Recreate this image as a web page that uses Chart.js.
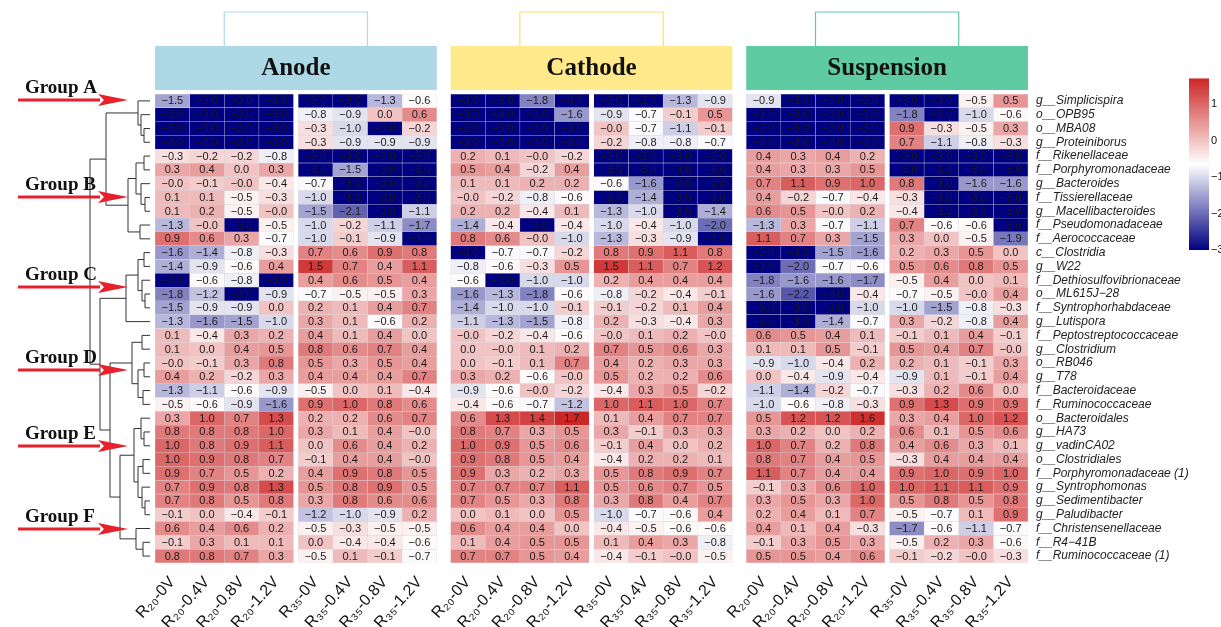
<!DOCTYPE html>
<html>
<head>
<meta charset="utf-8">
<script src="https://cdn.jsdelivr.net/npm/chart.js@4.4.0/dist/chart.umd.min.js"></script>
<style>
  html, body { margin: 0; padding: 0; background: #fff; }
</style>
</head>
<body>
<canvas id="heat" width="1221" height="627"></canvas>
<script>
const rowLabels = [
  "g__Simplicispira", "o__OPB95", "o__MBA08", "g__Proteiniborus", "f__Rikenellaceae",
  "f__Porphyromonadaceae", "g__Bacteroides", "f__Tissierellaceae", "g__Macellibacteroides",
  "f__Pseudomonadaceae", "f__Aerococcaceae", "c__Clostridia", "g__W22",
  "f__Dethiosulfovibrionaceae", "o__ML615J\u221228", "f__Syntrophorhabdaceae", "g__Lutispora",
  "f__Peptostreptococcaceae", "g__Clostridium", "o__RB046", "g__T78", "f__Bacteroidaceae",
  "f__Ruminococcaceae", "o__Bacteroidales", "g__HA73", "g__vadinCA02", "o__Clostridiales",
  "f__Porphyromonadaceae (1)", "g__Syntrophomonas", "g__Sedimentibacter", "g__Paludibacter",
  "f__Christensenellaceae", "f__R4\u221241B", "f__Ruminococcaceae (1)"
];
const colLabels = ["R\u2082\u2080-0V", "R\u2082\u2080-0.4V", "R\u2082\u2080-0.8V", "R\u2082\u2080-1.2V",
                   "R\u2083\u2085-0V", "R\u2083\u2085-0.4V", "R\u2083\u2085-0.8V", "R\u2083\u2085-1.2V"];
const panelNames = ["Anode", "Cathode", "Suspension"];
const panelColors = ["#ADD8E6", "#FFE98A", "#5FCBA2"];
const bracketColors = ["#ADD8E6", "#F7DF6A", "#5FCBA2"];
const groupNames = ["Group A", "Group B", "Group C", "Group D", "Group E", "Group F"];
const colorbarTicks = [1, 0, -1, -2, -3];

const anode = [
  [-1.5,-3.0,-3.0,-3.0,-3.0,-3.0,-1.3,-0.6],
  [-3.0,-3.0,-3.0,-3.0,-0.8,-0.9,0.0,0.6],
  [-3.0,-3.0,-3.0,-3.0,-0.3,-1.0,-3.0,-0.2],
  [-3.0,-3.0,-3.0,-3.0,-0.3,-0.9,-0.9,-0.9],
  [-0.3,-0.2,-0.2,-0.8,-3.0,-3.0,-3.0,-3.0],
  [0.3,0.4,0.0,0.3,-3.0,-1.5,-3.0,-3.0],
  [-0.0,-0.1,-0.0,-0.4,-0.7,-3.0,-3.0,-3.0],
  [0.1,0.1,-0.5,-0.3,-1.0,-3.0,-3.0,-3.0],
  [0.1,0.2,-0.5,-0.0,-1.5,-2.1,-3.0,-1.1],
  [-1.3,-0.0,-3.0,-0.5,-1.0,-0.2,-1.1,-1.7],
  [0.9,0.6,0.3,-0.7,-1.0,-0.1,-0.9,-3.0],
  [-1.6,-1.4,-0.8,-0.3,0.7,0.6,0.9,0.8],
  [-1.4,-0.9,-0.6,0.4,1.5,0.7,0.4,1.1],
  [-3.0,-0.6,-0.8,-3.0,0.4,0.6,0.5,0.4],
  [-1.8,-1.2,-3.0,-0.9,-0.7,-0.5,-0.5,0.3],
  [-1.5,-0.9,-0.9,0.0,0.2,0.1,0.4,0.7],
  [-1.3,-1.6,-1.5,-1.0,0.3,0.1,-0.6,0.2],
  [0.1,-0.4,0.3,0.2,0.4,0.1,0.4,0.0],
  [0.1,0.0,0.4,0.5,0.8,0.6,0.7,0.4],
  [-0.0,-0.1,0.3,0.8,0.5,0.3,0.5,0.4],
  [0.4,0.2,-0.2,0.3,0.4,0.4,0.4,0.7],
  [-1.3,-1.1,-0.6,-0.9,-0.5,0.0,0.1,-0.4],
  [-0.5,-0.6,-0.9,-1.6,0.9,1.0,0.8,0.6],
  [0.3,1.0,0.7,1.3,0.2,0.2,0.6,0.7],
  [0.8,0.8,0.8,1.0,0.3,0.1,0.4,-0.0],
  [1.0,0.8,0.9,1.1,0.0,0.6,0.4,0.2],
  [1.0,0.9,0.8,0.7,-0.1,0.4,0.4,-0.0],
  [0.9,0.7,0.5,0.2,0.4,0.9,0.8,0.5],
  [0.7,0.9,0.8,1.3,0.5,0.8,0.9,0.5],
  [0.7,0.8,0.5,0.8,0.3,0.8,0.6,0.6],
  [-0.1,0.0,-0.4,-0.1,-1.2,-1.0,-0.9,0.2],
  [0.6,0.4,0.6,0.2,-0.5,-0.3,-0.5,-0.5],
  [-0.1,0.3,0.1,0.1,0.0,-0.4,-0.4,-0.6],
  [0.8,0.8,0.7,0.3,-0.5,0.1,-0.1,-0.7]
];
const cathode = [
  [-3.0,-3.0,-1.8,-3.0,-3.0,-3.0,-1.3,-0.9],
  [-3.0,-3.0,-3.0,-1.6,-0.9,-0.7,-0.1,0.5],
  [-3.0,-3.0,-3.0,-3.0,-0.0,-0.7,-1.1,-0.1],
  [-3.0,-3.0,-3.0,-3.0,-0.2,-0.8,-0.8,-0.7],
  [0.2,0.1,-0.0,-0.2,-3.0,-3.0,-3.0,-3.0],
  [0.5,0.4,-0.2,0.4,-3.0,-3.0,-3.0,-3.0],
  [0.1,0.1,0.2,0.2,-0.6,-1.6,-3.0,-3.0],
  [-0.0,-0.2,-0.8,-0.6,-3.0,-1.4,-3.0,-3.0],
  [0.2,0.2,-0.4,0.1,-1.3,-1.0,-3.0,-1.4],
  [-1.4,-0.4,-3.0,-0.4,-1.0,-0.4,-1.0,-2.0],
  [0.8,0.6,-0.0,-1.0,-1.3,-0.3,-0.9,-3.0],
  [-3.0,-0.7,-0.7,-0.2,0.8,0.9,1.1,0.8],
  [-0.8,-0.6,-0.3,0.5,1.5,1.1,0.7,1.2],
  [-0.6,-3.0,-1.0,-1.0,0.2,0.4,0.4,0.4],
  [-1.6,-1.3,-1.8,-0.6,-0.8,-0.2,-0.4,-0.1],
  [-1.4,-1.0,-1.0,-0.1,-0.1,-0.2,0.1,0.4],
  [-1.1,-1.3,-1.5,-0.8,0.2,-0.3,-0.4,0.3],
  [-0.0,-0.2,-0.4,-0.6,-0.0,0.1,0.2,-0.0],
  [0.0,-0.0,0.1,0.2,0.7,0.5,0.6,0.3],
  [0.0,-0.1,0.1,0.7,0.4,0.2,0.3,0.3],
  [0.3,0.2,-0.6,-0.0,0.5,0.2,0.2,0.6],
  [-0.9,-0.6,-0.0,-0.2,-0.4,0.3,0.5,-0.2],
  [-0.4,-0.6,-0.7,-1.2,1.0,1.1,1.0,0.7],
  [0.6,1.3,1.4,1.7,0.1,0.4,0.7,0.7],
  [0.8,0.7,0.3,0.5,0.3,-0.1,0.3,0.3],
  [1.0,0.9,0.5,0.6,-0.1,0.4,0.0,0.2],
  [0.9,0.8,0.5,0.4,-0.4,0.2,0.2,0.1],
  [0.9,0.3,0.2,0.3,0.5,0.8,0.9,0.7],
  [0.7,0.7,0.7,1.1,0.5,0.6,0.7,0.5],
  [0.7,0.5,0.3,0.8,0.3,0.8,0.4,0.7],
  [0.0,0.1,0.0,0.5,-1.0,-0.7,-0.6,0.4],
  [0.6,0.4,0.4,0.0,-0.4,-0.5,-0.6,-0.6],
  [0.1,0.4,0.5,0.5,0.1,0.4,0.3,-0.8],
  [0.7,0.7,0.5,0.4,-0.4,-0.1,-0.0,-0.5]
];
const suspension = [
  [-0.9,-3.0,-3.0,-3.0,-3.0,-3.0,-0.5,0.5],
  [-3.0,-3.0,-3.0,-3.0,-1.8,-3.0,-1.0,-0.6],
  [-3.0,-3.0,-3.0,-3.0,0.9,-0.3,-0.5,0.3],
  [-3.0,-3.0,-3.0,-3.0,0.7,-1.1,-0.8,-0.3],
  [0.4,0.3,0.4,0.2,-3.0,-3.0,-3.0,-3.0],
  [0.4,0.3,0.3,0.5,-3.0,-3.0,-3.0,-3.0],
  [0.7,1.1,0.9,1.0,0.8,-3.0,-1.6,-1.6],
  [0.4,-0.2,-0.7,-0.4,-0.3,-3.0,-3.0,-3.0],
  [0.6,0.5,-0.0,0.2,-0.4,-3.0,-3.0,-3.0],
  [-1.3,0.3,-0.7,-1.1,0.7,-0.6,-0.6,-3.0],
  [1.1,0.7,0.3,-1.5,0.3,0.0,-0.5,-1.9],
  [-3.0,-3.0,-1.5,-1.6,0.2,0.3,0.5,0.0],
  [-3.0,-2.0,-0.7,-0.6,0.5,0.6,0.8,0.5],
  [-1.8,-1.6,-1.6,-1.7,-0.5,0.4,0.0,0.1],
  [-1.6,-2.2,-3.0,-0.4,-0.7,-0.5,-0.0,0.4],
  [-3.0,-3.0,-3.0,-1.0,-1.0,-1.5,-0.8,-0.3],
  [-3.0,-3.0,-1.4,-0.7,0.3,-0.2,-0.8,0.4],
  [0.6,0.5,0.4,0.1,-0.1,0.1,0.4,-0.1],
  [0.1,0.1,0.5,-0.1,0.5,0.4,0.7,-0.0],
  [-0.9,-1.0,-0.4,0.2,0.2,0.1,-0.1,0.3],
  [0.0,-0.4,-0.9,-0.4,-0.9,0.1,-0.1,0.4],
  [-1.1,-1.4,-0.2,-0.7,-0.3,0.2,0.6,0.0],
  [-1.0,-0.6,-0.8,-0.3,0.9,1.3,0.9,0.9],
  [0.5,1.2,1.2,1.6,0.3,0.4,1.0,1.2],
  [0.3,0.2,0.0,0.2,0.6,0.1,0.5,0.6],
  [1.0,0.7,0.2,0.8,0.4,0.6,0.3,0.1],
  [0.8,0.7,0.4,0.5,-0.3,0.4,0.4,0.4],
  [1.1,0.7,0.4,0.4,0.9,1.0,0.9,1.0],
  [-0.1,0.3,0.6,1.0,1.0,1.1,1.1,0.9],
  [0.3,0.5,0.3,1.0,0.5,0.8,0.5,0.8],
  [0.2,0.4,0.1,0.7,-0.5,-0.7,0.1,0.9],
  [0.4,0.1,0.4,-0.3,-1.7,-0.6,-1.1,-0.7],
  [-0.1,0.3,0.5,0.3,-0.5,0.2,0.3,-0.6],
  [0.5,0.5,0.4,0.6,-0.1,-0.2,-0.0,-0.3]
];
const panelValues = [anode, cathode, suspension];

// row clustering (height, children...), leaves are row indexes
const tree = [60,
  [44, [12, 0, [9, 1, [6, 2, 3]]],
       [22, [14, [6, 4, 5], [9, 6, [5, 7, 8]]], [10, 9, 10]]],
  [50, [24, [12, [6, 11, 12], [8, 13, [5, 14, 15]]], 16],
       [40, [18, [8, 17, 18], [12, [6, 19, 20], [7, 21, 22]]],
            [30, [16, [9, 23, [6, 24, 25]], [12, [7, 26, 27], [8, 28, [5, 29, 30]]]],
                 [14, 31, [7, 32, 33]]]]]
];
const groupArrowY = [100, 197, 287, 370, 446, 529];

const VMIN = -3, VMAX = 1.7;
const NAVY = [0, 0, 128], WHITE = [255, 255, 255], RED = [205, 38, 38];
function heatColor(v) {
  let t = (Math.min(Math.max(v, VMIN), VMAX) - VMIN) / (VMAX - VMIN);
  let a, b;
  if (t < 0.5) { a = NAVY; b = WHITE; t = t / 0.5; } else { a = WHITE; b = RED; t = (t - 0.5) / 0.5; }
  const c = a.map((x, i) => Math.round(x + (b[i] - x) * t));
  return `rgb(${c[0]},${c[1]},${c[2]})`;
}
function fmt(v) {
  const s = (Object.is(v, -0) ? "-0.0" : v.toFixed(1));
  return s.replace("-", "\u2212");
}

// column layout in x units (one unit = one cell)
const GROUP_GAP = 0.135, PANEL_GAP = 0.4;
const PANEL_W = 8 + GROUP_GAP;
function colStart(p, c) { return p * (PANEL_W + PANEL_GAP) + c + (c >= 4 ? GROUP_GAP : 0); }
const X_MAX = 3 * PANEL_W + 2 * PANEL_GAP;
const centers = [];
panelNames.forEach((_, p) => colLabels.forEach((_, c) => centers.push(colStart(p, c) + 0.5)));

const datasets = [];
panelValues.forEach((vals, p) => {
  colLabels.forEach((lab, c) => {
    const x0 = colStart(p, c);
    datasets.push({
      label: panelNames[p] + " " + lab,
      data: vals.map(() => [x0, x0 + 1]),
      values: vals.map(r => r[c]),
      backgroundColor: vals.map(r => heatColor(r[c])),
      borderColor: "rgba(120,120,150,0.2)",
      borderWidth: 0.5,
      borderSkipped: false,
      grouped: false,
      barPercentage: 1,
      categoryPercentage: 1
    });
  });
});

const decorPlugin = {
  id: "decor",
  afterDatasetsDraw(chart) {
    const ctx = chart.ctx;
    const xs = chart.scales.x, ys = chart.scales.y;
    const area = chart.chartArea;
    ctx.save();
    // cell values
    ctx.font = "11px 'Liberation Sans', Arial, sans-serif";
    ctx.fillStyle = "#1a1a1a";
    ctx.textAlign = "center";
    ctx.textBaseline = "middle";
    chart.data.datasets.forEach((ds, i) => {
      chart.getDatasetMeta(i).data.forEach((bar, j) => {
        const cx = (bar.x + bar.base) / 2;
        ctx.fillText(fmt(ds.values[j]), cx, bar.y + 0.5);
      });
    });

    // panel headers and top brackets
    panelNames.forEach((name, p) => {
      const l = xs.getPixelForValue(colStart(p, 0));
      const r = xs.getPixelForValue(colStart(p, 7) + 1);
      const top = 46, bot = area.top - 4;
      ctx.fillStyle = panelColors[p];
      ctx.fillRect(l, top, r - l, bot - top);
      ctx.fillStyle = "#111";
      ctx.font = "bold 25px 'Liberation Serif', 'Times New Roman', serif";
      ctx.fillText(name, (l + r) / 2, (top + bot) / 2 + 1);
      const b1 = xs.getPixelForValue(colStart(p, 2));
      const b2 = xs.getPixelForValue(colStart(p, 6));
      ctx.strokeStyle = bracketColors[p];
      ctx.lineWidth = 1.2;
      ctx.beginPath();
      ctx.moveTo(b1, top); ctx.lineTo(b1, 12); ctx.lineTo(b2, 12); ctx.lineTo(b2, top);
      ctx.stroke();
    });

    // row dendrogram
    const LEAF_X = area.left - 5;
    ctx.strokeStyle = "#333";
    ctx.lineWidth = 1;
    function node(n) {
      if (typeof n === "number") return { x: LEAF_X, y: ys.getPixelForValue(n) };
      const x = LEAF_X - n[0];
      const kids = n.slice(1).map(node);
      ctx.beginPath();
      kids.forEach(k => { ctx.moveTo(k.x, k.y); ctx.lineTo(x, k.y); });
      ctx.moveTo(x, kids[0].y); ctx.lineTo(x, kids[kids.length - 1].y);
      ctx.stroke();
      return { x, y: (kids[0].y + kids[kids.length - 1].y) / 2 };
    }
    node(tree);

    // group arrows
    groupNames.forEach((g, i) => {
      const y = groupArrowY[i];
      const tip = 128, headL = 30, headH = 6;
      ctx.strokeStyle = "#E8202A";
      ctx.fillStyle = "#E8202A";
      ctx.lineWidth = 3;
      ctx.beginPath();
      ctx.moveTo(18, y); ctx.lineTo(tip - headL + 2, y);
      ctx.stroke();
      ctx.beginPath();
      ctx.moveTo(tip, y);
      ctx.quadraticCurveTo(tip - headL * 0.6, y - headH * 0.6, tip - headL, y - headH);
      ctx.lineTo(tip - headL * 0.8, y);
      ctx.lineTo(tip - headL, y + headH);
      ctx.quadraticCurveTo(tip - headL * 0.6, y + headH * 0.6, tip, y);
      ctx.fill();
      ctx.fillStyle = "#111";
      ctx.font = "bold 19px 'Liberation Serif', 'Times New Roman', serif";
      ctx.textAlign = "left";
      ctx.fillText(g, 25, y - 12);
      ctx.textAlign = "center";
    });

    // colour bar
    const cbX = 1189, cbW = 20;
    const yOf = v => 250 - (v - VMIN) * 36.5;
    const grad = ctx.createLinearGradient(0, yOf(VMIN), 0, yOf(VMAX));
    grad.addColorStop(0, heatColor(VMIN));
    grad.addColorStop(0.5, heatColor((VMIN + VMAX) / 2));
    grad.addColorStop(1, heatColor(VMAX));
    ctx.fillStyle = grad;
    ctx.fillRect(cbX, yOf(VMAX), cbW, yOf(VMIN) - yOf(VMAX));
    ctx.fillStyle = "#111";
    ctx.font = "11px 'Liberation Sans', Arial, sans-serif";
    ctx.textAlign = "left";
    colorbarTicks.forEach(t => ctx.fillText(String(t).replace("-", "\u2212"), cbX + cbW + 2, yOf(t)));
    ctx.restore();
  }
};

new Chart(document.getElementById("heat"), {
  type: "bar",
  data: { labels: rowLabels, datasets },
  options: {
    indexAxis: "y",
    responsive: false,
    animation: false,
    layout: { padding: { left: 155, top: 94, right: 0, bottom: 0 } },
    plugins: { legend: { display: false }, tooltip: { enabled: false } },
    scales: {
      x: {
        type: "linear",
        min: 0,
        max: X_MAX,
        grid: { display: false },
        border: { display: false },
        afterBuildTicks: s => { s.ticks = centers.map(v => ({ value: v })); },
        afterFit: s => { s.height = 64; },
        ticks: {
          autoSkip: false,
          minRotation: 48,
          maxRotation: 48,
          padding: 2,
          color: "#111",
          font: { family: "'Liberation Sans', Arial, sans-serif", size: 16 },
          callback: (v, i) => colLabels[i % 8]
        }
      },
      y: {
        type: "category",
        position: "right",
        grid: { display: false },
        border: { display: false },
        afterFit: s => { s.width = 193; },
        ticks: {
          autoSkip: false,
          padding: 0,
          color: "#222",
          font: { family: "'Liberation Sans', Arial, sans-serif", size: 12, style: "italic" }
        }
      }
    }
  },
  plugins: [decorPlugin]
});
</script>
</body>
</html>
